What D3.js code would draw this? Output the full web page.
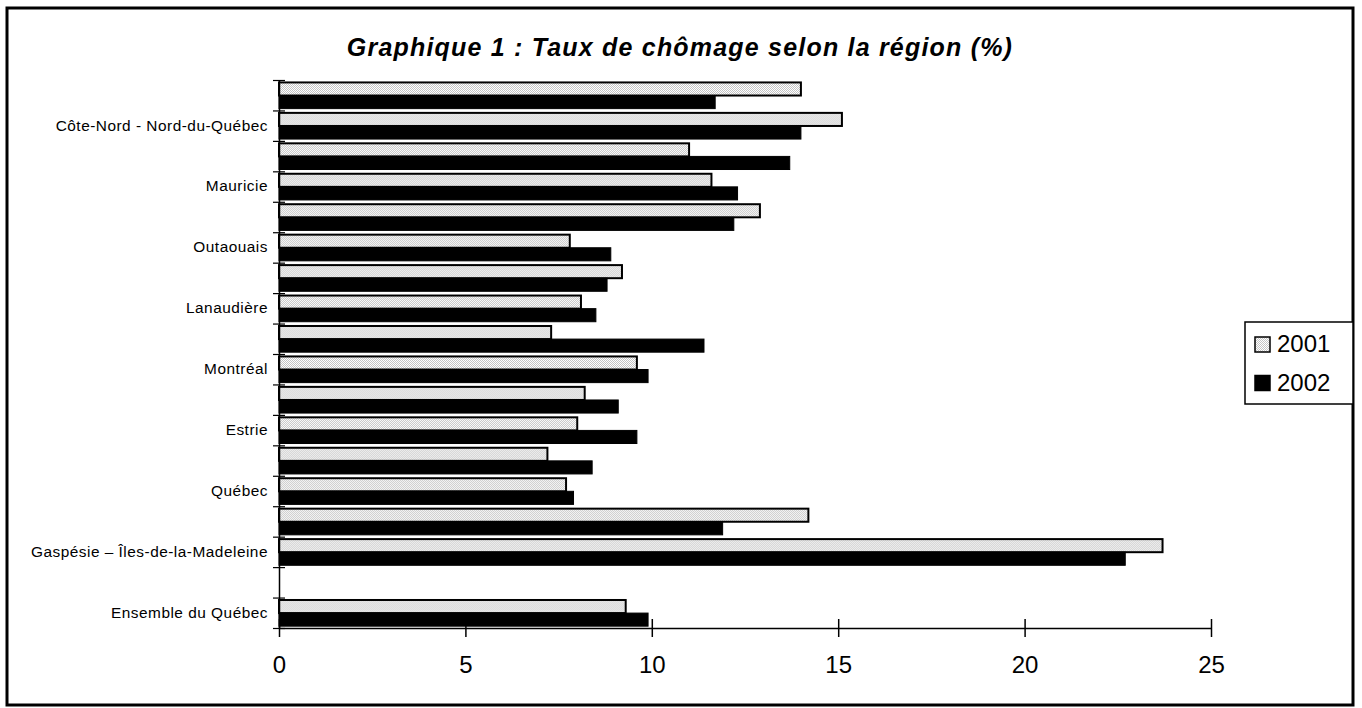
<!DOCTYPE html>
<html>
<head>
<meta charset="utf-8">
<script src="https://cdn.jsdelivr.net/npm/d3@7/dist/d3.min.js"></script>
<style>
  html, body { margin: 0; padding: 0; background: #fff; }
  svg { display: block; }
  text { font-family: "Liberation Sans", Arial, sans-serif; fill: #000; }
</style>
</head>
<body>
<svg id="chart" width="1362" height="708"></svg>
<script>
// ---- Data (categories listed bottom to top; "" = label not shown in the reference) ----
const categoryLabels = [
  "Ensemble du Québec", "", "Gaspésie – Îles-de-la-Madeleine", "", "Québec", "",
  "Estrie", "", "Montréal", "", "Lanaudière", "", "Outaouais", "", "Mauricie", "",
  "Côte-Nord - Nord-du-Québec", ""
];
const values2001 = [9.3, null, 23.7, 14.2, 7.7, 7.2, 8.0, 8.2, 9.6, 7.3, 8.1, 9.2, 7.8, 12.9, 11.6, 11.0, 15.1, 14.0];
const values2002 = [9.9, null, 22.7, 11.9, 7.9, 8.4, 9.6, 9.1, 9.9, 11.4, 8.5, 8.8, 8.9, 12.2, 12.3, 13.7, 14.0, 11.7];
const seriesNames = ["2001", "2002"];
const xTicks = [0, 5, 10, 15, 20, 25];
const titleText = "Graphique 1 : Taux de chômage selon la région (%)";

(function () {
const svg = d3.select("#chart");

// pattern for 2001 bars (light dotted)
const defs = svg.append("defs");
const pat = defs.append("pattern").attr("id", "dots")
  .attr("width", 2).attr("height", 2).attr("patternUnits", "userSpaceOnUse");
pat.append("rect").attr("width", 2).attr("height", 2).attr("fill", "#ffffff");
pat.append("rect").attr("x", 0).attr("y", 0).attr("width", 1).attr("height", 1).attr("fill", "#c4c4c4");
pat.append("rect").attr("x", 1).attr("y", 1).attr("width", 1).attr("height", 1).attr("fill", "#c4c4c4");

// outer frame
svg.append("rect").attr("x", 7).attr("y", 8).attr("width", 1346).attr("height", 697)
  .attr("fill", "none").attr("stroke", "#000").attr("stroke-width", 3);

// title
svg.append("text").attr("x", 680).attr("y", 56).attr("text-anchor", "middle")
  .style("font-size", "25px").style("font-weight", "bold").style("font-style", "italic")
  .style("letter-spacing", "1.2px")
  .text(titleText);

const pLeft = 279, pRight = 1211, pTop = 80, pBottom = 628;
const idx = d3.range(categoryLabels.length);

const x = d3.scaleLinear().domain([0, 25]).range([pLeft, pRight]);
const y = d3.scaleBand().domain(idx.slice().reverse()).range([pTop, pBottom]).padding(0);
const yInner = d3.scaleBand().domain(seriesNames)
  .range([y.bandwidth() * 0.08, y.bandwidth() * 0.94]).padding(0);
const yBound = d3.scaleLinear().domain([0, categoryLabels.length]).range([pBottom, pTop]);

const rows = idx.map(i => ({ i, vals: [values2001[i], values2002[i]] }));

const g = svg.append("g");
const groups = g.selectAll("g.cat").data(rows).join("g")
  .attr("transform", d => `translate(0,${y(d.i)})`);

groups.selectAll("rect").data(d => d.vals.map((v, k) => ({ v, s: seriesNames[k] })).filter(e => e.v != null))
  .join("rect")
  .attr("x", x(0))
  .attr("y", e => yInner(e.s))
  .attr("width", e => x(e.v) - x(0))
  .attr("height", yInner.bandwidth())
  .attr("fill", e => e.s === "2001" ? "url(#dots)" : "#000")
  .attr("stroke", "#000")
  .attr("stroke-width", e => e.s === "2001" ? 2 : 1);

// Y axis: boundary ticks crossing the axis
const yAxisG = svg.append("g").attr("transform", `translate(${pLeft},0)`)
  .call(d3.axisLeft(yBound).tickValues(d3.range(categoryLabels.length + 1)).tickFormat("").tickSizeInner(6).tickSizeOuter(0));
yAxisG.select(".domain").attr("stroke", "#000").attr("stroke-width", 1.5);
yAxisG.selectAll(".tick line").attr("x1", 6).attr("stroke", "#000").attr("stroke-width", 1.2);

// Y labels at band centers
const yLabG = svg.append("g").attr("transform", `translate(${pLeft - 11},0)`)
  .call(d3.axisLeft(y).tickSize(0).tickPadding(0).tickFormat(i => categoryLabels[i]));
yLabG.select(".domain").remove();
yLabG.selectAll("text").style("font-size", "15.4px").style("letter-spacing", "0.5px")
  .style("font-family", "'Liberation Sans', Arial, sans-serif").attr("fill", "#000");

// X axis
const xAxisG = svg.append("g").attr("transform", `translate(0,${pBottom})`)
  .call(d3.axisBottom(x).tickValues(xTicks).tickSizeInner(9).tickSizeOuter(0).tickPadding(19).tickFormat(d3.format("d")));
xAxisG.select(".domain").attr("stroke", "#000").attr("stroke-width", 1.5);
xAxisG.selectAll(".tick line").attr("y1", -9).attr("stroke", "#000").attr("stroke-width", 1.5);
xAxisG.selectAll("text").style("font-size", "24px")
  .style("font-family", "'Liberation Sans', Arial, sans-serif").attr("fill", "#000");

// Legend
const lg = svg.append("g");
lg.append("rect").attr("x", 1245).attr("y", 322).attr("width", 108).attr("height", 82)
  .attr("fill", "#fff").attr("stroke", "#000").attr("stroke-width", 1.5);
seriesNames.forEach((s, k) => {
  const yy = 337 + k * 38.5;
  lg.append("rect").attr("x", 1255).attr("y", yy).attr("width", 15).attr("height", 15)
    .attr("fill", s === "2001" ? "url(#dots)" : "#000").attr("stroke", "#000").attr("stroke-width", 1.5);
  lg.append("text").attr("x", 1277).attr("y", yy + 15).style("font-size", "24px").text(s);
});
})();
</script>
</body>
</html>
